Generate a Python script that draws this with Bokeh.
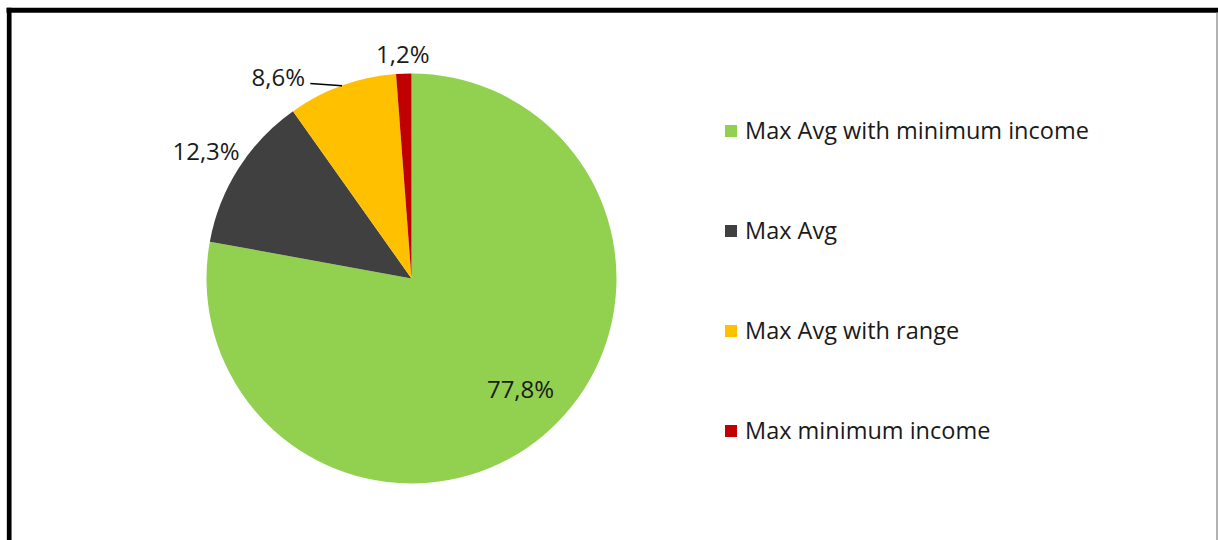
import math
from bokeh.plotting import figure
from bokeh.models import Range1d, ColumnDataSource, Legend, LegendItem
from bokeh.core.properties import value
from bokeh.embed import file_html
from bokeh.resources import INLINE

# ---- data ----
categories = ["Max Avg with minimum income", "Max Avg", "Max Avg with range", "Max minimum income"]
shares = [77.8, 12.3, 8.6, 1.2]
labels = ["77,8%", "12,3%", "8,6%", "1,2%"]
colors = ["#92D050", "#404040", "#FFC000", "#C00000"]

# ---- layout (pixel-like data units, y up) ----
W, H = 1218, 540
CX, CY, R = 411, H - 278, 205
FONT = "Open Sans"

# label placement: radius and angle (deg) from the pie centre
label_r = [155, 242, 242, 225]
label_ang = [-45.3, 148.1, 123.4, 92.2]

total = sum(shares)
starts, ends, mids = [], [], []
acc = 0.0
for s in shares:
    a0 = math.pi / 2 - 2 * math.pi * acc / total
    acc += s
    a1 = math.pi / 2 - 2 * math.pi * acc / total
    starts.append(a0)
    ends.append(a1)
    mids.append((a0 + a1) / 2)

p = figure(width=W, height=H, output_backend="svg", toolbar_location=None,
           x_range=Range1d(0, W), y_range=Range1d(0, H), min_border=0,
           outline_line_color=None)
p.axis.visible = False
p.grid.visible = False
p.background_fill_color = "white"
p.border_fill_color = "white"

src = ColumnDataSource(dict(start=starts, end=ends, color=colors, cat=categories))
wr = p.wedge(x=CX, y=CY, radius=R, start_angle="start", end_angle="end",
             direction="clock", fill_color="color", line_color=None, source=src)

# data labels
lx = [CX + r * math.cos(math.radians(a)) for r, a in zip(label_r, label_ang)]
ly = [CY + r * math.sin(math.radians(a)) for r, a in zip(label_r, label_ang)]
p.text(x=lx, y=ly, text=labels, text_font=value(FONT), text_font_size="24px",
       text_color="#1a1a1a", text_align="center", text_baseline="middle")

# leader line for the small yellow slice label
i = 2
ex = CX + R * math.cos(mids[i])
ey = CY + R * math.sin(mids[i])
p.line(x=[lx[i] + 32, ex], y=[ly[i] - 7, ey], line_color="black", line_width=1.5)

# legend
items = [LegendItem(label=c, renderers=[wr], index=k) for k, c in enumerate(categories)]
leg = Legend(items=items, location=(723, H - 446), orientation="vertical",
             label_text_font=FONT, label_text_font_size="23.5px", label_text_color="#1a1a1a",
             glyph_width=15, glyph_height=15, label_standoff=7, spacing=68,
             padding=0, margin=0, border_line_color=None, background_fill_alpha=0,
             label_height=15)
p.add_layout(leg)

# frame (top, left, right sides; bottom is cut off)
p.segment(x0=[6, 8.7], y0=[H - 9.8, H - 7.3], x1=[W, 8.7], y1=[H - 9.8, 0],
          line_color="black", line_width=[5, 4.7])
p.segment(x0=[1216.5], y0=[H - 12], x1=[1216.5], y1=[0], line_color="#999999", line_width=1.5)

open("out.html", "w").write(file_html(p, INLINE))
